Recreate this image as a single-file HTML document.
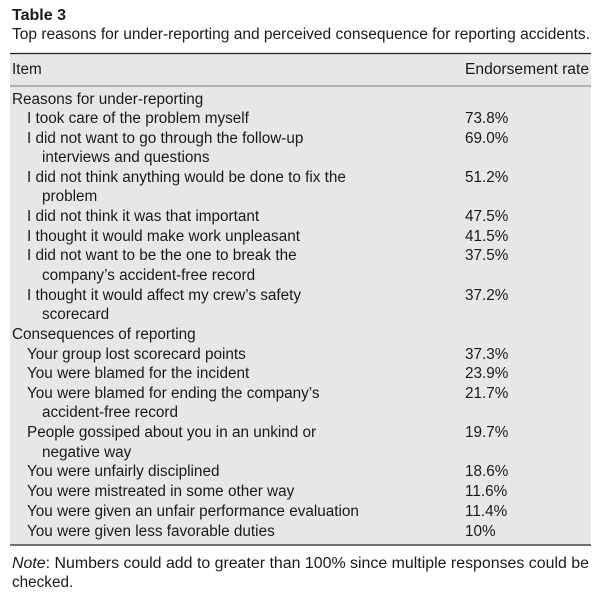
<!DOCTYPE html>
<html><head><meta charset="utf-8"><style>
body{margin:0;background:#fff;width:605px;height:603px;overflow:hidden}
svg{display:block}
text{font-family:"Liberation Sans",sans-serif;font-size:15.3px;fill:#1a1a1a}
</style></head><body>
<svg width="605" height="603" viewBox="0 0 605 603">
<rect x="10" y="53" width="581" height="492" fill="#e7e7e8"/>
<line x1="10" y1="53.5" x2="591" y2="53.5" stroke="#222" stroke-width="1.3"/>
<line x1="10" y1="86" x2="591" y2="86" stroke="#555" stroke-width="0.8"/>
<line x1="10" y1="545" x2="591" y2="545" stroke="#222" stroke-width="1.3"/>
<text x="12" y="20" font-weight="bold" font-size="15" textLength="54" lengthAdjust="spacingAndGlyphs">Table 3</text>
<text x="12" y="39" textLength="578" lengthAdjust="spacingAndGlyphs">Top reasons for under-reporting and perceived consequence for reporting accidents.</text>
<text x="12" y="74">Item</text>
<text x="465" y="74" textLength="124" lengthAdjust="spacingAndGlyphs">Endorsement rate</text>
<g>
<text x="12" y="104">Reasons for under-reporting</text>
<text x="27" y="123">I took care of the problem myself</text><text x="465" y="123">73.8%</text>
<text x="27" y="143">I did not want to go through the follow-up</text><text x="465" y="143">69.0%</text>
<text x="42" y="162">interviews and questions</text>
<text x="27" y="182">I did not think anything would be done to fix the</text><text x="465" y="182">51.2%</text>
<text x="42" y="201">problem</text>
<text x="27" y="221">I did not think it was that important</text><text x="465" y="221">47.5%</text>
<text x="27" y="241">I thought it would make work unpleasant</text><text x="465" y="241">41.5%</text>
<text x="27" y="260">I did not want to be the one to break the</text><text x="465" y="260">37.5%</text>
<text x="42" y="280">company’s accident-free record</text>
<text x="27" y="300">I thought it would affect my crew’s safety</text><text x="465" y="300">37.2%</text>
<text x="42" y="319">scorecard</text>
<text x="12" y="339">Consequences of reporting</text>
<text x="27" y="359">Your group lost scorecard points</text><text x="465" y="359">37.3%</text>
<text x="27" y="378">You were blamed for the incident</text><text x="465" y="378">23.9%</text>
<text x="27" y="398">You were blamed for ending the company’s</text><text x="465" y="398">21.7%</text>
<text x="42" y="417">accident-free record</text>
<text x="27" y="437">People gossiped about you in an unkind or</text><text x="465" y="437">19.7%</text>
<text x="42" y="457">negative way</text>
<text x="27" y="476">You were unfairly disciplined</text><text x="465" y="476">18.6%</text>
<text x="27" y="496">You were mistreated in some other way</text><text x="465" y="496">11.6%</text>
<text x="27" y="516">You were given an unfair performance evaluation</text><text x="465" y="516">11.4%</text>
<text x="27" y="536">You were given less favorable duties</text><text x="465" y="536">10%</text>
</g>
<text x="12" y="568" textLength="577" lengthAdjust="spacingAndGlyphs"><tspan font-style="italic">Note</tspan>: Numbers could add to greater than 100% since multiple responses could be</text>
<text x="12" y="587">checked.</text>
</svg>
</body></html>
